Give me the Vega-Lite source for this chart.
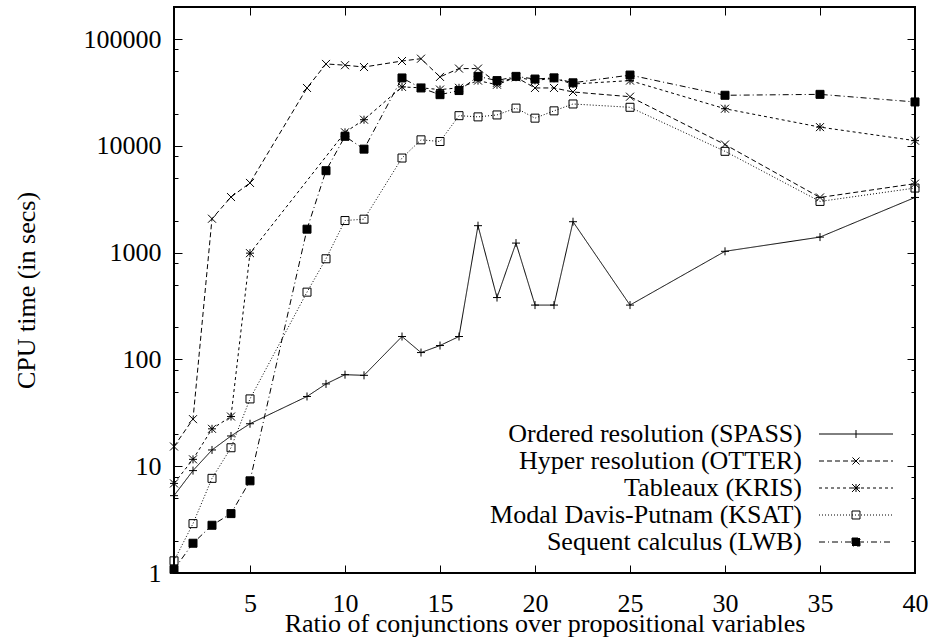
{
  "$schema": "https://vega.github.io/schema/vega-lite/v6.json",
  "width": 741,
  "height": 566,
  "autosize": {"type": "none"},
  "padding": {"left": 174, "top": 7, "right": 15, "bottom": 69},
  "background": "white",
  "config": {
    "view": {"stroke": "black", "strokeWidth": 2},
    "font": "Liberation Serif, Times New Roman, Times, serif",
    "axis": {
      "domain": false,
      "grid": false,
      "tickColor": "black",
      "tickWidth": 1,
      "labelFont": "Liberation Serif, Times New Roman, Times, serif",
      "labelFontSize": 26,
      "labelColor": "black",
      "labelFlush": false,
      "labelOverlap": false,
      "titleFont": "Liberation Serif, Times New Roman, Times, serif",
      "titleFontSize": 26,
      "titleFontWeight": "normal",
      "titleColor": "black"
    }
  },
  "data": {
    "values": [
      {"prover": "Ordered resolution (SPASS)", "ratio": 1, "time": 5.3},
      {"prover": "Ordered resolution (SPASS)", "ratio": 2, "time": 9.1},
      {"prover": "Ordered resolution (SPASS)", "ratio": 3, "time": 14.2},
      {"prover": "Ordered resolution (SPASS)", "ratio": 4, "time": 19.2},
      {"prover": "Ordered resolution (SPASS)", "ratio": 5, "time": 25},
      {"prover": "Ordered resolution (SPASS)", "ratio": 8, "time": 45},
      {"prover": "Ordered resolution (SPASS)", "ratio": 9, "time": 59},
      {"prover": "Ordered resolution (SPASS)", "ratio": 10, "time": 72},
      {"prover": "Ordered resolution (SPASS)", "ratio": 11, "time": 71},
      {"prover": "Ordered resolution (SPASS)", "ratio": 13, "time": 164},
      {"prover": "Ordered resolution (SPASS)", "ratio": 14, "time": 116},
      {"prover": "Ordered resolution (SPASS)", "ratio": 15, "time": 135},
      {"prover": "Ordered resolution (SPASS)", "ratio": 16, "time": 164},
      {"prover": "Ordered resolution (SPASS)", "ratio": 17, "time": 1790},
      {"prover": "Ordered resolution (SPASS)", "ratio": 18, "time": 380},
      {"prover": "Ordered resolution (SPASS)", "ratio": 19, "time": 1230},
      {"prover": "Ordered resolution (SPASS)", "ratio": 20, "time": 323},
      {"prover": "Ordered resolution (SPASS)", "ratio": 21, "time": 323},
      {"prover": "Ordered resolution (SPASS)", "ratio": 22, "time": 1950},
      {"prover": "Ordered resolution (SPASS)", "ratio": 25, "time": 323},
      {"prover": "Ordered resolution (SPASS)", "ratio": 30, "time": 1030},
      {"prover": "Ordered resolution (SPASS)", "ratio": 35, "time": 1400},
      {"prover": "Ordered resolution (SPASS)", "ratio": 40, "time": 3290},
      {"prover": "Hyper resolution (OTTER)", "ratio": 1, "time": 15.3},
      {"prover": "Hyper resolution (OTTER)", "ratio": 2, "time": 27.6},
      {"prover": "Hyper resolution (OTTER)", "ratio": 3, "time": 2080},
      {"prover": "Hyper resolution (OTTER)", "ratio": 4, "time": 3320},
      {"prover": "Hyper resolution (OTTER)", "ratio": 5, "time": 4500},
      {"prover": "Hyper resolution (OTTER)", "ratio": 8, "time": 34900},
      {"prover": "Hyper resolution (OTTER)", "ratio": 9, "time": 58600},
      {"prover": "Hyper resolution (OTTER)", "ratio": 10, "time": 57000},
      {"prover": "Hyper resolution (OTTER)", "ratio": 11, "time": 54800},
      {"prover": "Hyper resolution (OTTER)", "ratio": 13, "time": 62400},
      {"prover": "Hyper resolution (OTTER)", "ratio": 14, "time": 65600},
      {"prover": "Hyper resolution (OTTER)", "ratio": 15, "time": 44300},
      {"prover": "Hyper resolution (OTTER)", "ratio": 16, "time": 53000},
      {"prover": "Hyper resolution (OTTER)", "ratio": 17, "time": 53000},
      {"prover": "Hyper resolution (OTTER)", "ratio": 18, "time": 39000},
      {"prover": "Hyper resolution (OTTER)", "ratio": 19, "time": 44000},
      {"prover": "Hyper resolution (OTTER)", "ratio": 20, "time": 34900},
      {"prover": "Hyper resolution (OTTER)", "ratio": 21, "time": 34900},
      {"prover": "Hyper resolution (OTTER)", "ratio": 22, "time": 32000},
      {"prover": "Hyper resolution (OTTER)", "ratio": 25, "time": 28900},
      {"prover": "Hyper resolution (OTTER)", "ratio": 30, "time": 10300},
      {"prover": "Hyper resolution (OTTER)", "ratio": 35, "time": 3290},
      {"prover": "Hyper resolution (OTTER)", "ratio": 40, "time": 4430},
      {"prover": "Tableaux (KRIS)", "ratio": 1, "time": 6.9},
      {"prover": "Tableaux (KRIS)", "ratio": 2, "time": 11.6},
      {"prover": "Tableaux (KRIS)", "ratio": 3, "time": 22.4},
      {"prover": "Tableaux (KRIS)", "ratio": 4, "time": 29.2},
      {"prover": "Tableaux (KRIS)", "ratio": 5, "time": 990},
      {"prover": "Tableaux (KRIS)", "ratio": 10, "time": 13400},
      {"prover": "Tableaux (KRIS)", "ratio": 11, "time": 17600},
      {"prover": "Tableaux (KRIS)", "ratio": 13, "time": 35700},
      {"prover": "Tableaux (KRIS)", "ratio": 14, "time": 35000},
      {"prover": "Tableaux (KRIS)", "ratio": 15, "time": 33700},
      {"prover": "Tableaux (KRIS)", "ratio": 16, "time": 35000},
      {"prover": "Tableaux (KRIS)", "ratio": 17, "time": 40900},
      {"prover": "Tableaux (KRIS)", "ratio": 18, "time": 37400},
      {"prover": "Tableaux (KRIS)", "ratio": 19, "time": 44000},
      {"prover": "Tableaux (KRIS)", "ratio": 20, "time": 41000},
      {"prover": "Tableaux (KRIS)", "ratio": 21, "time": 43000},
      {"prover": "Tableaux (KRIS)", "ratio": 22, "time": 38000},
      {"prover": "Tableaux (KRIS)", "ratio": 25, "time": 40900},
      {"prover": "Tableaux (KRIS)", "ratio": 30, "time": 22300},
      {"prover": "Tableaux (KRIS)", "ratio": 35, "time": 15000},
      {"prover": "Tableaux (KRIS)", "ratio": 40, "time": 11200},
      {"prover": "Modal Davis-Putnam (KSAT)", "ratio": 1, "time": 1.3},
      {"prover": "Modal Davis-Putnam (KSAT)", "ratio": 2, "time": 2.9},
      {"prover": "Modal Davis-Putnam (KSAT)", "ratio": 3, "time": 7.7},
      {"prover": "Modal Davis-Putnam (KSAT)", "ratio": 4, "time": 14.9},
      {"prover": "Modal Davis-Putnam (KSAT)", "ratio": 5, "time": 42.7},
      {"prover": "Modal Davis-Putnam (KSAT)", "ratio": 8, "time": 427},
      {"prover": "Modal Davis-Putnam (KSAT)", "ratio": 9, "time": 877},
      {"prover": "Modal Davis-Putnam (KSAT)", "ratio": 10, "time": 2000},
      {"prover": "Modal Davis-Putnam (KSAT)", "ratio": 11, "time": 2060},
      {"prover": "Modal Davis-Putnam (KSAT)", "ratio": 13, "time": 7700},
      {"prover": "Modal Davis-Putnam (KSAT)", "ratio": 14, "time": 11400},
      {"prover": "Modal Davis-Putnam (KSAT)", "ratio": 15, "time": 11000},
      {"prover": "Modal Davis-Putnam (KSAT)", "ratio": 16, "time": 19200},
      {"prover": "Modal Davis-Putnam (KSAT)", "ratio": 17, "time": 18700},
      {"prover": "Modal Davis-Putnam (KSAT)", "ratio": 18, "time": 19500},
      {"prover": "Modal Davis-Putnam (KSAT)", "ratio": 19, "time": 22600},
      {"prover": "Modal Davis-Putnam (KSAT)", "ratio": 20, "time": 18200},
      {"prover": "Modal Davis-Putnam (KSAT)", "ratio": 21, "time": 21300},
      {"prover": "Modal Davis-Putnam (KSAT)", "ratio": 22, "time": 24700},
      {"prover": "Modal Davis-Putnam (KSAT)", "ratio": 25, "time": 23000},
      {"prover": "Modal Davis-Putnam (KSAT)", "ratio": 30, "time": 8900},
      {"prover": "Modal Davis-Putnam (KSAT)", "ratio": 35, "time": 3020},
      {"prover": "Modal Davis-Putnam (KSAT)", "ratio": 40, "time": 4030},
      {"prover": "Sequent calculus (LWB)", "ratio": 1, "time": 1.08},
      {"prover": "Sequent calculus (LWB)", "ratio": 2, "time": 1.9},
      {"prover": "Sequent calculus (LWB)", "ratio": 3, "time": 2.8},
      {"prover": "Sequent calculus (LWB)", "ratio": 4, "time": 3.6},
      {"prover": "Sequent calculus (LWB)", "ratio": 5, "time": 7.3},
      {"prover": "Sequent calculus (LWB)", "ratio": 8, "time": 1660},
      {"prover": "Sequent calculus (LWB)", "ratio": 9, "time": 5860},
      {"prover": "Sequent calculus (LWB)", "ratio": 10, "time": 12300},
      {"prover": "Sequent calculus (LWB)", "ratio": 11, "time": 9330},
      {"prover": "Sequent calculus (LWB)", "ratio": 13, "time": 43300},
      {"prover": "Sequent calculus (LWB)", "ratio": 14, "time": 34900},
      {"prover": "Sequent calculus (LWB)", "ratio": 15, "time": 30200},
      {"prover": "Sequent calculus (LWB)", "ratio": 16, "time": 33000},
      {"prover": "Sequent calculus (LWB)", "ratio": 17, "time": 44800},
      {"prover": "Sequent calculus (LWB)", "ratio": 18, "time": 40900},
      {"prover": "Sequent calculus (LWB)", "ratio": 19, "time": 44800},
      {"prover": "Sequent calculus (LWB)", "ratio": 20, "time": 42300},
      {"prover": "Sequent calculus (LWB)", "ratio": 21, "time": 43400},
      {"prover": "Sequent calculus (LWB)", "ratio": 22, "time": 39000},
      {"prover": "Sequent calculus (LWB)", "ratio": 25, "time": 46100},
      {"prover": "Sequent calculus (LWB)", "ratio": 30, "time": 29800},
      {"prover": "Sequent calculus (LWB)", "ratio": 35, "time": 30400},
      {"prover": "Sequent calculus (LWB)", "ratio": 40, "time": 25800}
    ]
  },
  "layer": [
    {
      "mark": {"type": "line", "color": "black", "strokeWidth": 1},
      "encoding": {
        "x": {
          "field": "ratio", "type": "quantitative",
          "scale": {"domain": [1, 40], "nice": false, "zero": false},
          "axis": {
            "orient": "bottom",
            "values": [5, 10, 15, 20, 25, 30, 35, 40],
            "tickSize": -8,
            "labelPadding": 25,
            "title": "Ratio of conjunctions over propositional variables",
            "titleBaseline": "alphabetic",
            "titleY": 58
          }
        },
        "y": {
          "field": "time", "type": "quantitative",
          "scale": {"type": "log", "domain": [1, 200000], "nice": false},
          "axis": {
            "orient": "left",
            "values": [1, 2, 5, 8, 10, 20, 50, 80, 100, 200, 500, 800, 1000, 2000, 5000, 8000, 10000, 20000, 50000, 80000, 100000],
            "tickSize": {"condition": {"test": "indexof([1,10,100,1000,10000,100000], datum.value) >= 0", "value": -8}, "value": -4},
            "labelPadding": 21,
            "labelBaseline": "middle",
            "labelExpr": "indexof([1,10,100,1000,10000,100000], datum.value) >= 0 ? format(datum.value, 'd') : ''",
            "title": "CPU time (in secs)",
            "titleAngle": -90,
            "titleAlign": "center",
            "titleBaseline": "alphabetic",
            "titleX": -140,
            "titleY": 283
          }
        },
        "strokeDash": {
          "field": "prover", "type": "nominal",
          "scale": {
            "domain": ["Ordered resolution (SPASS)", "Hyper resolution (OTTER)", "Tableaux (KRIS)", "Modal Davis-Putnam (KSAT)", "Sequent calculus (LWB)"],
            "range": [[1, 0], [5, 3], [3, 3], [1, 2], [6, 3, 1, 3]]
          },
          "legend": {
            "title": null,
            "orient": "none",
            "direction": "vertical",
            "columns": 1,
            "legendX": 345,
            "legendY": 413.5,
            "padding": 0,
            "rowPadding": 0,
            "labelFont": "Liberation Serif, Times New Roman, Times, serif",
            "labelFontSize": 26,
            "labelColor": "black",
            "labelLimit": 0,
            "symbolSize": 5476,
            "symbolStrokeWidth": 1,
            "symbolStrokeColor": "black",
            "encode": {
              "symbols": {
                "update": {
                  "x": {"value": 337},
                  "y": {"value": 13.5},
                  "stroke": {"value": "black"},
                  "strokeWidth": {"value": 1},
                  "opacity": {"value": 1},
                  "fill": {"signal": "datum.value === 'Sequent calculus (LWB)' ? 'black' : 'transparent'"},
                  "shape": {"signal": "datum.value === 'Ordered resolution (SPASS)' ? 'M-1,0H1M0,-0.108V0.108' : datum.value === 'Hyper resolution (OTTER)' ? 'M-1,0H1M0,0L0.1,0.1M0,0L-0.1,-0.1M0,0L0.1,-0.1M0,0L-0.1,0.1' : datum.value === 'Tableaux (KRIS)' ? 'M-1,0H1M0,0L0.054,0M0.054,0L0.108,0M0,0L-0.054,0M-0.054,0L-0.108,0M0,0L0,0.054M0,0.054L0,0.108M0,0L0,-0.054M0,-0.054L0,-0.108M0,0L0.054,0.054M0.054,0.054L0.108,0.108M0,0L-0.054,-0.054M-0.054,-0.054L-0.108,-0.108M0,0L0.054,-0.054M0.054,-0.054L0.108,-0.108M0,0L-0.054,0.054M-0.054,0.054L-0.108,0.108' : datum.value === 'Modal Davis-Putnam (KSAT)' ? 'M-1,0H1M-0.108,-0.108h0.027M-0.081,-0.108h0.027M-0.054,-0.108h0.027M-0.027,-0.108h0.027M0,-0.108h0.027M0.027,-0.108h0.027M0.054,-0.108h0.027M0.081,-0.108h0.027M-0.108,0.108h0.027M-0.081,0.108h0.027M-0.054,0.108h0.027M-0.027,0.108h0.027M0,0.108h0.027M0.027,0.108h0.027M0.054,0.108h0.027M0.081,0.108h0.027M-0.108,-0.108v0.027M-0.108,-0.081v0.027M-0.108,-0.054v0.027M-0.108,-0.027v0.027M-0.108,0v0.027M-0.108,0.027v0.027M-0.108,0.054v0.027M-0.108,0.081v0.027M0.108,-0.108v0.027M0.108,-0.081v0.027M0.108,-0.054v0.027M0.108,-0.027v0.027M0.108,0v0.027M0.108,0.027v0.027M0.108,0.054v0.027M0.108,0.081v0.027' : 'M-1,0H1M-0.108,-0.108H0.108V0.108H-0.108Z'"}
                }
              },
              "labels": {
                "update": {
                  "x": {"value": 283},
                  "y": {"value": 13.5},
                  "align": {"value": "right"},
                  "baseline": {"value": "middle"}
                }
              }
            }
          }
        }
      }
    },
    {
      "mark": {"type": "point", "color": "black", "stroke": "black", "strokeWidth": 1, "size": 64, "opacity": 1},
      "encoding": {
        "x": {
          "field": "ratio", "type": "quantitative",
          "scale": {"domain": [1, 40], "nice": false, "zero": false},
          "axis": {
            "orient": "top",
            "values": [5, 10, 15, 20, 25, 30, 35, 40],
            "tickSize": -8,
            "labels": false,
            "title": null
          }
        },
        "y": {
          "field": "time", "type": "quantitative",
          "scale": {"type": "log", "domain": [1, 200000], "nice": false},
          "axis": {
            "orient": "right",
            "values": [1, 2, 5, 8, 10, 20, 50, 80, 100, 200, 500, 800, 1000, 2000, 5000, 8000, 10000, 20000, 50000, 80000, 100000],
            "tickSize": {"condition": {"test": "indexof([1,10,100,1000,10000,100000], datum.value) >= 0", "value": -8}, "value": -4},
            "labels": false,
            "title": null
          }
        },
        "shape": {
          "field": "prover", "type": "nominal",
          "sort": ["Ordered resolution (SPASS)", "Hyper resolution (OTTER)", "Tableaux (KRIS)", "Modal Davis-Putnam (KSAT)", "Sequent calculus (LWB)"],
          "scale": {
            "range": ["M-1,0H1M0,-1V1", "M-1,-1L1,1M-1,1L1,-1", "M-1,0H1M0,-1V1M-1,-1L1,1M-1,1L1,-1", "M-1,-1H1V1H-1Z", "M-1,-1H1V1H-1Z"]
          },
          "legend": null
        },
        "fill": {
          "field": "prover", "type": "nominal",
          "sort": ["Ordered resolution (SPASS)", "Hyper resolution (OTTER)", "Tableaux (KRIS)", "Modal Davis-Putnam (KSAT)", "Sequent calculus (LWB)"],
          "scale": {
            "range": ["transparent", "transparent", "transparent", "transparent", "black"]
          },
          "legend": null
        }
      }
    }
  ],
  "resolve": {"axis": {"x": "independent", "y": "independent"}}
}
